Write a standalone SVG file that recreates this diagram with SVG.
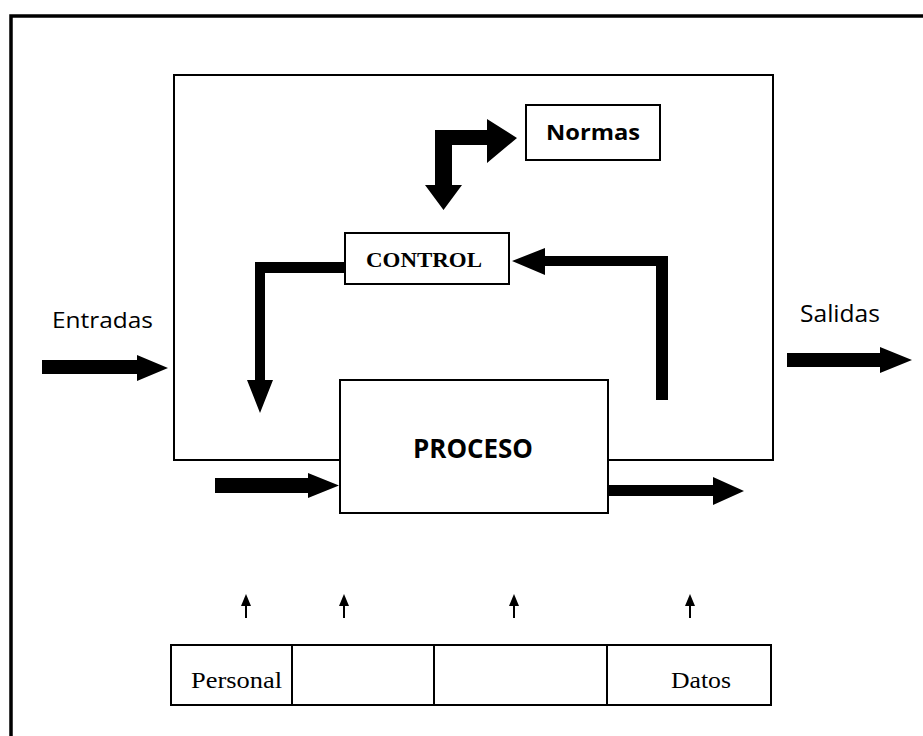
<svg xmlns="http://www.w3.org/2000/svg" width="923" height="736" viewBox="0 0 923 736">
  <style>
    .box { fill: #fff; stroke: #000; stroke-width: 2; }
    .frame { fill: none; stroke: #000; stroke-width: 3.5; }
    .sans { font-family: "Open Sans", "Liberation Sans", sans-serif; fill: #000; }
    .serif { font-family: "Liberation Serif", "Times New Roman", serif; fill: #000; }
    .bold { font-weight: bold; }
    .thick { fill: #000; stroke: none; }
    .thin { stroke: #000; stroke-width: 2; fill: none; }
  </style>
  <defs>
    <!-- small upward arrow used for each resource -->
    <g id="up-arrow">
      <line class="thin" x1="0" y1="618" x2="0" y2="603"/>
      <path class="thick" d="M0,594 L5,606 L-5,606 Z"/>
    </g>
  </defs>

  <rect width="923" height="736" fill="#fff"/>

  <!-- outer frame: only the top and left edges fall inside the page -->
  <path class="frame" d="M11,740 L11,16 L930,16"/>

  <!-- system boundary -->
  <g id="sistema">
    <rect class="box" x="174" y="75" width="599" height="385"/>
  </g>

  <g id="normas">
    <rect class="box" x="526" y="105" width="134" height="55"/>
    <text class="sans bold" x="593" y="140" font-size="22" text-anchor="middle" textLength="94" lengthAdjust="spacingAndGlyphs">Normas</text>
  </g>

  <g id="control">
    <rect class="box" x="345" y="233" width="164" height="51"/>
    <text class="serif bold" x="424" y="267" font-size="22" text-anchor="middle" textLength="116" lengthAdjust="spacingAndGlyphs">CONTROL</text>
  </g>

  <g id="proceso">
    <rect class="box" x="340" y="380" width="268" height="133"/>
    <text class="sans bold" x="473" y="458" font-size="26" text-anchor="middle" textLength="120" lengthAdjust="spacingAndGlyphs">PROCESO</text>
  </g>

  <g id="entradas">
    <text class="sans" x="52" y="328" font-size="22" textLength="101" lengthAdjust="spacingAndGlyphs">Entradas</text>
  </g>

  <g id="salidas">
    <text class="sans" x="800" y="322" font-size="23" textLength="80" lengthAdjust="spacingAndGlyphs">Salidas</text>
  </g>

  <g id="recursos">
    <rect class="box" x="171" y="645" width="121" height="60"/>
    <rect class="box" x="292" y="645" width="142" height="60"/>
    <rect class="box" x="434" y="645" width="173" height="60"/>
    <rect class="box" x="607" y="645" width="164" height="60"/>
    <text class="serif" x="191" y="688" font-size="23" textLength="91" lengthAdjust="spacingAndGlyphs">Personal</text>
    <text class="serif" x="671" y="688" font-size="23" textLength="60" lengthAdjust="spacingAndGlyphs">Datos</text>
  </g>

  <g id="conectores">
    <!-- Entradas -->
    <path class="thick" d="M42,360 L137,360 L137,355 L168,368 L137,381 L137,374 L42,374 Z"/>
    <!-- Salidas -->
    <path class="thick" d="M787,353 L880,353 L880,347 L912,360 L880,373 L880,367 L787,367 Z"/>
    <!-- into PROCESO -->
    <path class="thick" d="M215,478 L308,478 L308,473 L339,485.5 L308,498 L308,493 L215,493 Z"/>
    <!-- out of PROCESO -->
    <path class="thick" d="M608,485 L713,485 L713,477 L744,491 L713,505 L713,496 L608,496 Z"/>
    <!-- CONTROL <-> Normas -->
    <path class="thick" d="M435,130 L487,130 L487,119 L517,138 L487,163 L487,145 L452,145 L452,185 L462,185 L443.5,210 L425,185 L435,185 Z"/>
    <!-- CONTROL down to the input -->
    <path class="thick" d="M345,262 L345,273 L265,273 L265,380 L273,380 L260,413 L247,380 L255,380 L255,262 Z"/>
    <!-- feedback from the output back to CONTROL -->
    <path class="thick" d="M668,256 L668,400 L656,400 L656,266 L545,266 L545,275 L512,261 L545,248 L545,256 Z"/>
    <!-- resources feeding the process -->
    <use href="#up-arrow" x="246"/>
    <use href="#up-arrow" x="344"/>
    <use href="#up-arrow" x="514"/>
    <use href="#up-arrow" x="690"/>
  </g>
</svg>
